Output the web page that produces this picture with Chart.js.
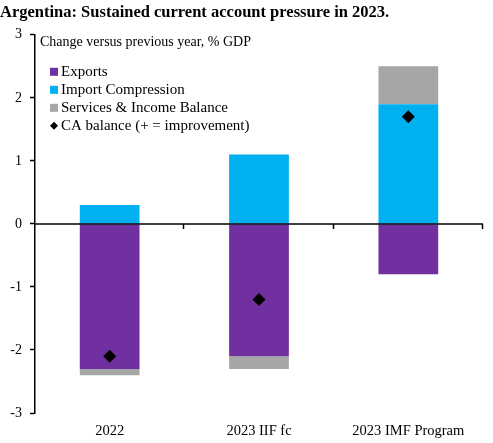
<!DOCTYPE html>
<html>
<head>
<meta charset="utf-8">
<script src="https://cdn.jsdelivr.net/npm/chart.js@4/dist/chart.umd.min.js"></script>
<style>
  body { margin: 0; background: #fff; }
  #wrap { width: 493px; height: 443px; }
</style>
</head>
<body>
<div id="wrap"><canvas id="chart" width="493" height="443"></canvas></div>
<script>
// datos
const categorias = ['2022', '2023 IIF fc', '2023 IMF Program'];
const exportaciones = [-2.3, -2.1, -0.8];
const importaciones = [0.3, 1.1, 1.9];
const serviciosRenta = [-0.1, -0.2, 0.6];
const saldoCA = [-2.1, -1.2, 1.7];
const ticksY = [-3, -2, -1, 0, 1, 2, 3];

const FUENTE = "'Liberation Serif', 'DejaVu Serif', serif";

// leyenda dentro del área del gráfico + eje en cero
const pluginExtra = {
    id: 'extra',
    afterDatasetsDraw(chart) {
        const { ctx, chartArea, scales: { x, y } } = chart;
        const y0 = y.getPixelForValue(0);
        ctx.save();
        ctx.strokeStyle = '#000';
        ctx.lineWidth = 1.5;
        ctx.beginPath();
        ctx.moveTo(chartArea.left, y0);
        ctx.lineTo(chartArea.right, y0);
        // marcas entre categorías
        const paso = (chartArea.right - chartArea.left) / categorias.length;
        for (let i = 1; i <= categorias.length; i++) {
            const px = Math.round(chartArea.left + paso * i) - 0.5;
            ctx.moveTo(px, y0);
            ctx.lineTo(px, y0 + 5);
        }
        ctx.stroke();

        // subtítulo y leyenda
        ctx.fillStyle = '#000';
        ctx.textBaseline = 'middle';
        ctx.textAlign = 'left';
        ctx.font = '14px ' + FUENTE;
        ctx.fillText('Change versus previous year, % GDP', chartArea.left + 5, chartArea.top + 8);

        ctx.font = '15px ' + FUENTE;
        const items = chart.data.datasets;
        let fy = chartArea.top + 37;
        items.forEach(function (ds) {
            const cx = chartArea.left + 19;
            if (ds.type === 'line') {
                ctx.fillStyle = '#000';
                ctx.beginPath();
                ctx.moveTo(cx, fy - 4);
                ctx.lineTo(cx + 4, fy);
                ctx.lineTo(cx, fy + 4);
                ctx.lineTo(cx - 4, fy);
                ctx.closePath();
                ctx.fill();
            } else {
                ctx.fillStyle = ds.backgroundColor;
                ctx.fillRect(cx - 4, fy - 4, 8, 8);
            }
            ctx.fillStyle = '#000';
            ctx.fillText(ds.label, cx + 7, fy);
            fy += 18;
        });
        ctx.restore();
    }
};

new Chart(document.getElementById('chart'), {
    type: 'bar',
    data: {
        labels: categorias,
        datasets: [
            { label: 'Exports', data: exportaciones, backgroundColor: '#7030A0', stack: 'a', order: 1 },
            { label: 'Import Compression', data: importaciones, backgroundColor: '#00B0F0', stack: 'a', order: 1 },
            { label: 'Services & Income Balance', data: serviciosRenta, backgroundColor: '#A6A6A6', stack: 'a', order: 1 },
            {
                type: 'line',
                label: 'CA balance (+ = improvement)',
                data: saldoCA,
                stack: 'ca',
                order: 0,
                showLine: false,
                pointStyle: 'rectRot',
                pointRadius: 6.5,
                pointBackgroundColor: '#000',
                pointBorderColor: '#000',
                pointBorderWidth: 0
            }
        ]
    },
    options: {
        responsive: false,
        animation: false,
        layout: { padding: { left: 0, right: 10, top: 0, bottom: 0 } },
        datasets: {
            bar: { categoryPercentage: 0.4, barPercentage: 1 }
        },
        plugins: {
            legend: { display: false },
            tooltip: { enabled: false },
            title: {
                display: true,
                align: 'start',
                text: 'Argentina: Sustained current account pressure in 2023.',
                color: '#000',
                font: { family: FUENTE, size: 16.5, weight: 'bold' },
                padding: { top: 3, bottom: 12 }
            }
        },
        scales: {
            x: {
                stacked: true,
                grid: { display: false },
                border: { display: false },
                afterFit(axis) { axis.height = 30; },
                ticks: {
                    color: '#000',
                    font: { family: FUENTE, size: 14.5 },
                    padding: 1
                }
            },
            y: {
                stacked: true,
                min: ticksY[0],
                max: ticksY[ticksY.length - 1],
                afterBuildTicks(axis) {
                    axis.ticks = ticksY.map(v => ({ value: v }));
                },
                afterFit(axis) { axis.width = 35; },
                grid: { drawOnChartArea: false, drawTicks: true, tickLength: 5, tickColor: '#000', tickWidth: 1.5 },
                border: { display: true, color: '#000', width: 1.5 },
                ticks: {
                    color: '#000',
                    font: { family: FUENTE, size: 14 },
                    padding: 8
                }
            }
        }
    },
    plugins: [pluginExtra]
});
</script>
</body>
</html>
